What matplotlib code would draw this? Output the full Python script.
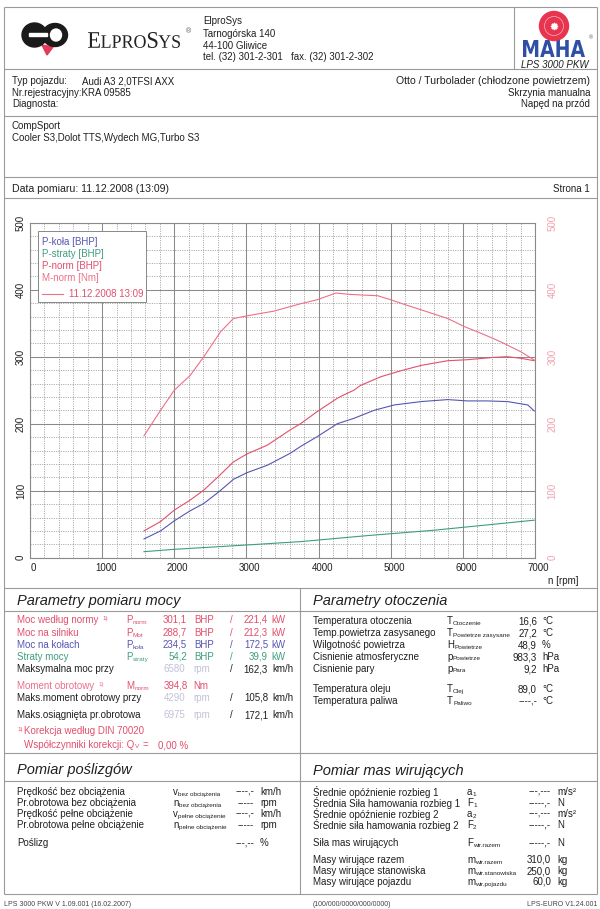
import matplotlib
matplotlib.use("Agg")
import matplotlib.pyplot as plt
from matplotlib.patches import Rectangle, Ellipse, Circle, PathPatch, Polygon
from matplotlib.textpath import TextPath
from matplotlib.path import Path
from matplotlib.font_manager import FontProperties
from matplotlib.transforms import Affine2D, ScaledTranslation
from matplotlib.ticker import MultipleLocator

plt.rcParams['font.family'] = ['Liberation Sans', 'DejaVu Sans']

# ---------------- data ----------------
rpm_mnorm = [1580, 1810, 2000, 2220, 2410, 2640, 2820, 3010, 3380, 3750, 3980, 4240, 4440, 4610, 4820, 5000, 5190, 5420, 5790, 6020, 6250, 6530, 6810, 6990]
mnorm_nm = [182, 220, 250, 272, 300, 337, 357, 361, 368, 379, 385, 395, 393, 392, 391, 385, 378, 370, 357, 345, 335, 322, 307, 295]

rpm_pnorm = [1580, 1810, 2000, 2220, 2410, 2620, 2820, 3010, 3290, 3610, 3750, 3980, 4260, 4350, 4490, 4580, 4860, 5140, 5420, 5790, 6060, 6430, 6620, 6810, 6990]
pnorm_bhp = [40, 54, 71, 86, 101, 122, 143, 155, 168, 191, 200, 218, 238, 243, 250, 257, 270, 279, 287, 294, 295.5, 299, 300, 297.5, 294]

rpm_pkola = [1580, 1810, 2000, 2220, 2410, 2620, 2820, 3010, 3290, 3610, 3750, 3980, 4260, 4490, 4770, 5050, 5420, 5790, 6060, 6340, 6620, 6900, 6990]
pkola_bhp = [28, 40, 55, 70, 81, 98.5, 117, 127, 138, 156, 166, 180.6, 200, 208, 220, 228, 233, 236, 234, 234, 233, 228, 219]

rpm_pstraty = [1580, 2000, 3010, 3750, 4680, 5600, 6530, 6990]
pstraty_bhp = [9, 12.5, 19, 24, 33, 41, 51, 56]

x_ticks = [0, 1000, 2000, 3000, 4000, 5000, 6000, 7000]
y_ticks = [0, 100, 200, 300, 400, 500]

legend_labels = ["P-koła [BHP]", "P-straty [BHP]", "P-norm [BHP]", "M-norm [Nm]"]
legend_date = "11.12.2008 13:09"

# ---------------- colours ----------------
C_PN = '#e24f6c'
C_MN = '#ec7088'
C_BL = '#5656b2'
C_GR = '#3e9e7c'
C_RAX = '#f2a0b0'
C_LAV = '#c2c2da'
C_LINE = '#9a9a9a'
C_TXT = '#202020'

W, H = 600, 909
fig = plt.figure(figsize=(W / 100, H / 100), dpi=100)
fig.patch.set_facecolor('white')

pg = fig.add_axes([0, 0, 1, 1], zorder=0)
pg.set_xlim(0, W)
pg.set_ylim(H, 0)
pg.axis('off')

ov = fig.add_axes([0, 0, 1, 1], zorder=2)
ov.set_xlim(0, W)
ov.set_ylim(H, 0)
ov.axis('off')
ov.patch.set_alpha(0)

renderer = fig.canvas.get_renderer()


def T(x, y, s, fs=7, color=C_TXT, ha='left', ax=None, **kw):
    a = ax if ax is not None else pg
    return a.text(x, y, s, fontsize=fs, color=color, ha=ha, va='center', **kw)


def width(t):
    return t.get_window_extent(renderer=renderer).width


def SUB(x, y, main, sub, color=C_TXT, fs=7, sfs=4.6, dy=2.6):
    t = T(x, y, main, fs=fs, color=color)
    s = T(x + width(t) + 0.3, y + dy, sub, fs=sfs, color=color)
    return x + width(t) + 0.3 + width(s)


def hline(y, x0=4, x1=597, c=C_LINE, lw=0.8):
    pg.plot([x0, x1], [y, y], color=c, lw=lw, solid_capstyle='butt')


def vline(x, y0, y1, c=C_LINE, lw=0.8):
    pg.plot([x, x], [y0, y1], color=c, lw=lw, solid_capstyle='butt')


# ---------------- page frame ----------------
vline(4, 7, 894)
vline(597, 7, 894)
hline(7)
vline(514, 7, 69)
hline(69)
hline(116)
hline(177)
hline(198)
hline(588)
hline(753)
hline(894)
vline(300, 588, 894)
hline(610.5)
hline(780.5)

# ---------------- header: ElproSys logo ----------------
pg.add_patch(Ellipse((34.5, 35), 25, 24, color='#1a1a1a', zorder=3))
pg.add_patch(Rectangle((29, 32.8), 18, 3.4, color='white', zorder=4))
pg.add_patch(Ellipse((55, 35), 25, 23, color='#1a1a1a', zorder=3))
pg.add_patch(Ellipse((56, 35), 11, 12, color='white', zorder=4))
pg.add_patch(Polygon([[42, 45], [53, 47], [47, 55]], closed=True, color='#e23a58', zorder=2))

fp_serif = FontProperties(family='Liberation Serif')
pieces = [("E", 1.0), ("LPRO", 0.8), ("S", 1.0), ("YS", 0.8)]
paths = []
xo = 0
for s, sc in pieces:
    p = TextPath((xo, 0), s, size=100 * sc, prop=fp_serif)
    paths.append(p)
    xo = p.get_extents().x1 + 3
comp = Path.make_compound_path(*paths)
bb = comp.get_extents()
tr = Affine2D().translate(-bb.x0, -bb.y0).scale(92 / bb.width, -16 / bb.height).translate(88, 48)
pg.add_patch(PathPatch(comp, transform=tr + pg.transData, color='#222222', lw=0))
T(186, 32, "®", fs=5, color='#555555')

T(203, 21, "ElproSys")
T(203, 34, "Tarnogórska 140")
T(203, 46, "44-100 Gliwice")
T(203, 57, "tel. (32) 301-2-301   fax. (32) 301-2-302")

# ---------------- header: MAHA logo ----------------
fp_bold = FontProperties(family='DejaVu Sans', weight='bold')
mp = TextPath((0, 0), "MAHA", size=100, prop=fp_bold)
mb = mp.get_extents()
trm = Affine2D().translate(-mb.x0, -mb.y0).scale(62 / mb.width, -17 / mb.height).translate(523, 57)
pg.add_patch(PathPatch(mp, transform=trm + pg.transData, color='#2f4ea6', lw=0, zorder=3))
pg.add_patch(Circle((554, 26), 14.5, color='#e8344e', zorder=4))
pg.add_patch(Circle((554, 26), 9.5, fill=False, ec='#f7b8c2', lw=0.5, zorder=5))
pg.plot([554], [26], marker=(8, 1, 0), color='white', ms=5, zorder=6)
T(589, 38, "®", fs=4, color='#555555')
T(555, 65, "LPS 3000 PKW", fs=7, ha='center', style='italic')

# ---------------- vehicle info ----------------
T(12, 81, "Typ pojazdu:")
T(82, 81, "Audi A3 2,0TFSI AXX")
T(12, 93, "Nr.rejestracyjny:KRA 09585")
T(12, 104, "Diagnosta:")
T(590, 81, "Otto / Turbolader (chłodzone powietrzem)", ha='right', fs=7.6)
T(590, 93, "Skrzynia manualna", ha='right')
T(590, 104, "Napęd na przód", ha='right')

T(12, 126, "CompSport")
T(12, 138, "Cooler S3,Dolot TTS,Wydech MG,Turbo S3")

T(12, 189, "Data pomiaru: 11.12.2008 (13:09)", fs=7.6)
T(590, 189, "Strona 1", ha='right')

# ---------------- chart ----------------
x0p, x1p, y0p, y1p = 30, 535, 222.7, 557.7
ax = fig.add_axes([x0p / W, 1 - y1p / H, (x1p - x0p) / W, (y1p - y0p) / H], zorder=1)
ax.set_xlim(0, 7000)
ax.set_ylim(0, 500)
ax.xaxis.set_major_locator(MultipleLocator(1000))
ax.xaxis.set_minor_locator(MultipleLocator(200))
ax.yaxis.set_major_locator(MultipleLocator(100))
ax.yaxis.set_minor_locator(MultipleLocator(20))
ax.set_xticks(x_ticks)
ax.set_yticks(y_ticks)
ax.grid(which='major', color='#8a8a8a', lw=0.75, ls='-')
ax.grid(which='minor', color='#9a9a9a', lw=0.6, ls=(0, (1.3, 1.5)))
ax.set_axisbelow(True)
for sp in ax.spines.values():
    sp.set_color('#8a8a8a')
    sp.set_linewidth(0.8)
ax.tick_params(which='both', length=0)
ax.tick_params(axis='x', labelsize=7, pad=4, colors=C_TXT)
ax.tick_params(axis='y', labelsize=7, pad=3, colors=C_TXT)
for lab in ax.get_yticklabels():
    lab.set_rotation(90)
    lab.set_va('center')
off = ScaledTranslation(0.035, 0, fig.dpi_scale_trans)
for lab in ax.get_xticklabels():
    lab.set_transform(lab.get_transform() + off)

ax2 = ax.twinx()
ax2.set_ylim(0, 500)
ax2.set_yticks(y_ticks)
ax2.tick_params(which='both', length=0, labelsize=7, pad=9, colors=C_RAX)
for lab in ax2.get_yticklabels():
    lab.set_rotation(90)
    lab.set_va('center')
for sp in ax2.spines.values():
    sp.set_visible(False)

ax.plot(rpm_pstraty, pstraty_bhp, color=C_GR, lw=0.8)
ax.plot(rpm_pkola, pkola_bhp, color=C_BL, lw=0.8)
ax.plot(rpm_pnorm, pnorm_bhp, color=C_PN, lw=0.8)
ax.plot(rpm_mnorm, mnorm_nm, color=C_MN, lw=0.8)

T(563, 581, "n [rpm]", ha='center')

# legend
ov.add_patch(Rectangle((38, 231), 108, 71, facecolor='white', edgecolor='#888888', lw=0.7))
leg_cols = [C_BL, C_GR, C_PN, C_MN]
for i, (lbl, c) in enumerate(zip(legend_labels, leg_cols)):
    T(42, 242 + 12 * i, lbl, color=c, ax=ov)
ov.plot([42, 63], [294, 294], color=C_MN, lw=0.8)
T(69, 294, legend_date, color=C_PN, ax=ov)

# ---------------- Parametry pomiaru mocy ----------------
T(17, 601, "Parametry pomiaru mocy", fs=10.5, style='italic')

rows_power = [
    (620, "Moc według normy", "P", "norm", "301,1", "BHP", "221,4", "kW", C_PN, True),
    (632.5, "Moc na silniku", "P", "Mot", "288,7", "BHP", "212,3", "kW", C_PN, False),
    (644.5, "Moc na kołach", "P", "koła", "234,5", "BHP", "172,5", "kW", C_BL, False),
    (656.5, "Straty mocy", "P", "straty", "54,2", "BHP", "39,9", "kW", C_GR, False),
]
for y, lbl, sm, ss, v1, u1, v2, u2, c, sup in rows_power:
    t = T(17, y, lbl, color=c)
    if sup:
        T(17 + width(t) + 4, y - 1.5, "1)", fs=4.5, color=c)
    SUB(126, y, sm, ss, color=c)
    T(187, y, v1, color=c, ha='right')
    T(194, y, u1, color=c)
    T(231, y, "/", color=c, ha='center')
    T(268, y, v2, color=c, ha='right')
    T(271, y, u2, color=c)

rows_rpm = [
    (669, "Maksymalna moc przy", "6580", "162,3"),
    (698, "Maks.moment obrotowy przy", "4290", "105,8"),
    (715, "Maks.osiągnięta pr.obrotowa", "6975", "172,1"),
]
for y, lbl, r, v in rows_rpm:
    T(17, y, lbl)
    T(185, y, r, color=C_LAV, ha='right')
    T(193, y, "rpm", color=C_LAV)
    T(231, y, "/", ha='center')
    T(268, y, v, ha='right')
    T(272, y, "km/h")

t = T(17, 686, "Moment obrotowy", color=C_MN)
T(17 + width(t) + 4, 684.5, "1)", fs=4.5, color=C_MN)
SUB(126, 686, "M", "norm", color=C_PN)
T(188, 686, "394,8", color=C_PN, ha='right')
T(193, 686, "Nm", color=C_PN)

T(17, 729.5, "1)", fs=4.5, color=C_PN)
T(24, 731, "Korekcja według DIN 70020", color=C_PN)
xe = SUB(24, 745, "Współczynniki korekcji: Q", "V", color=C_PN, dy=2)
T(xe + 4, 745, "=", color=C_PN)
T(158, 745, "0,00 %", color=C_PN)

# ---------------- Parametry otoczenia ----------------
T(313, 601, "Parametry otoczenia", fs=10.5, style='italic')
rows_env = [
    (621, "Temperatura otoczenia", "T", "Otoczenie", "16,6", "°C", 2.6),
    (633, "Temp.powietrza zasysanego", "T", "Powietrze zasysane", "27,2", "°C", 2.6),
    (645, "Wilgotność powietrza", "H", "Powietrze", "48,9", "%", 2.6),
    (657, "Cisnienie atmosferyczne", "p", "Powietrze", "983,3", "hPa", 1.5),
    (669, "Cisnienie pary", "p", "Para", "9,2", "hPa", 1.5),
    (689, "Temperatura oleju", "T", "Olej", "89,0", "°C", 2.6),
    (701, "Temperatura paliwa", "T", "Paliwo", "----,-", "°C", 2.6),
]
for y, lbl, sm, ss, v, u, dy in rows_env:
    T(313, y, lbl)
    SUB(447, y, sm, ss, dy=dy)
    T(537, y, v, ha='right')
    T(542, y, u)

# ---------------- Pomiar poślizgów ----------------
T(17, 770, "Pomiar poślizgów", fs=10.5, style='italic')
rows_slip = [
    (792, "Prędkość bez obciążenia", "v", "bez obciążenia", "----,-", "km/h"),
    (803, "Pr.obrotowa bez obciążenia", "n", "bez obciążenia", "-----", "rpm"),
    (814, "Prędkość pełne obciążenie", "v", "pełne obciążenie", "----,-", "km/h"),
    (825, "Pr.obrotowa pełne obciążenie", "n", "pełne obciążenie", "-----", "rpm"),
]
for y, lbl, sm, ss, v, u in rows_slip:
    T(17, y, lbl)
    SUB(173, y, sm, ss)
    T(254, y, v, ha='right')
    T(260, y, u)
T(17, 843, "Poślizg")
T(254, 843, "---,--", ha='right')
T(260, 843, "%")

# ---------------- Pomiar mas wirujących ----------------
T(313, 771, "Pomiar mas wirujących", fs=10.5, style='italic')
rows_mass = [
    (792, "Średnie opóźnienie rozbieg 1", "a", "1", "---,---", "m/s²"),
    (803, "Średnia Siła hamowania rozbieg 1", "F", "1", "-----,-", "N"),
    (814, "Średnie opóźnienie rozbieg 2", "a", "2", "---,---", "m/s²"),
    (825, "Średnie siła hamowania rozbieg 2", "F", "2", "-----,-", "N"),
    (843, "Siła mas wirujących", "F", "wir.razem", "-----,-", "N"),
    (860, "Masy wirujące razem", "m", "wir.razem", "310,0", "kg"),
    (871, "Masy wirujące stanowiska", "m", "wir.stanowiska", "250,0", "kg"),
    (882, "Masy wirujące pojazdu", "m", "wir.pojazdu", "60,0", "kg"),
]
for y, lbl, sm, ss, v, u in rows_mass:
    T(313, y, lbl)
    SUB(467, y, sm, ss)
    T(551, y, v, ha='right')
    T(557, y, u)

# ---------------- footer ----------------
T(4, 905, "LPS 3000 PKW V 1.09.001 (16.02.2007)", fs=5, color='#444444')
T(313, 905, "(100/000/0000/000/0000)", fs=5, color='#444444')
T(597, 905, "LPS-EURO V1.24.001", fs=5, color='#444444', ha='right')

fig.savefig("out.png", dpi=100, facecolor='white')
